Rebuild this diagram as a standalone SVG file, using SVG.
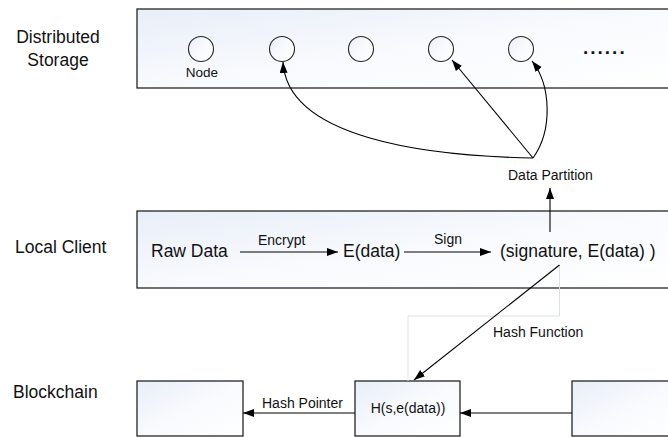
<svg xmlns="http://www.w3.org/2000/svg" width="668" height="437" viewBox="0 0 668 437">
<defs>
<linearGradient id="g" x1="0" y1="0" x2="1" y2="1">
<stop offset="0" stop-color="#e8eef8"/>
<stop offset="0.5" stop-color="#f8fafd"/>
<stop offset="1" stop-color="#ffffff"/>
</linearGradient>
<marker id="ah" markerUnits="userSpaceOnUse" markerWidth="12" markerHeight="10" refX="11" refY="4" orient="auto">
<path d="M0,0 L11,4 L0,8 Z" fill="#000"/>
</marker>
<style>
.box{fill:url(#g);stroke:#262626;stroke-width:1.3}
.nd{fill:url(#g);stroke:#262626;stroke-width:1.1}
.lbl{font-family:"Liberation Sans",Arial,sans-serif;font-size:17.5px;fill:#111}
.sm{font-family:"Liberation Sans",Arial,sans-serif;font-size:14px;fill:#111}
.c{fill:none;stroke:#000;stroke-width:1.1;marker-end:url(#ah)}
.faint{fill:none;stroke:#dbe1ec;stroke-width:1}
</style>
</defs>
<rect width="668" height="437" fill="#fff"/>
<g id="layer-labels">
<text class="lbl" x="58" y="43" text-anchor="middle">Distributed</text>
<text class="lbl" x="58" y="66" text-anchor="middle">Storage</text>
<text class="lbl" x="15" y="253">Local Client</text>
<text class="lbl" x="13" y="398">Blockchain</text>
</g>
<g id="storage">
<rect class="box" x="137" y="9" width="545" height="79"/>
<g id="node1"><circle class="nd" cx="201" cy="49" r="12.5"/><text class="sm" x="202" y="77" text-anchor="middle" style="font-size:13.5px">Node</text></g>
<g id="node2"><circle class="nd" cx="282" cy="49" r="12.5"/></g>
<g id="node3"><circle class="nd" cx="361" cy="49" r="12.5"/></g>
<g id="node4"><circle class="nd" cx="441" cy="49" r="12.5"/></g>
<g id="node5"><circle class="nd" cx="521" cy="49" r="12.5"/></g>
<text id="more" x="583" y="54" style="font-family:'Liberation Sans',Arial,sans-serif;font-size:19px;font-weight:bold;letter-spacing:2px" fill="#111">......</text>
</g>
<g id="client">
<rect class="box" x="137" y="211" width="545" height="77"/>
<text id="rawdata" class="lbl" x="151" y="257">Raw Data</text>
<text id="edata" class="lbl" x="343" y="257">E(data)</text>
<text id="signed" class="lbl" x="500" y="257">(signature, E(data) )</text>
</g>
<g id="block1"><rect class="box" x="137" y="381" width="106" height="55"/></g>
<g id="block2"><rect class="box" x="355" y="381" width="105" height="55"/><text class="sm" x="408" y="413" text-anchor="middle">H(s,e(data))</text></g>
<g id="block3"><rect class="box" x="572" y="381" width="110" height="55"/></g>
<g id="connectors">
<path class="faint" d="M559.5,265 V316 H408 V381"/>
<path class="c" d="M240,252 H338"/>
<text class="sm" x="258" y="245">Encrypt</text>
<path class="c" d="M404,252 H491"/>
<text class="sm" x="434" y="244">Sign</text>
<path class="c" d="M550,232 V188"/>
<text class="sm" x="508" y="180">Data Partition</text>
<path class="c" d="M533,158 C425,156 287,138 283,62"/>
<path class="c" d="M533,158 L452,60"/>
<path class="c" d="M533,158 C553,130 551,85 532,61"/>
<path class="c" d="M559.5,265 L414,380"/>
<text class="sm" x="493" y="337">Hash Function</text>
<path class="c" d="M355,413 H243"/>
<text class="sm" x="262" y="408">Hash Pointer</text>
<path class="c" d="M572,413 H460"/>
</g>
</svg>
